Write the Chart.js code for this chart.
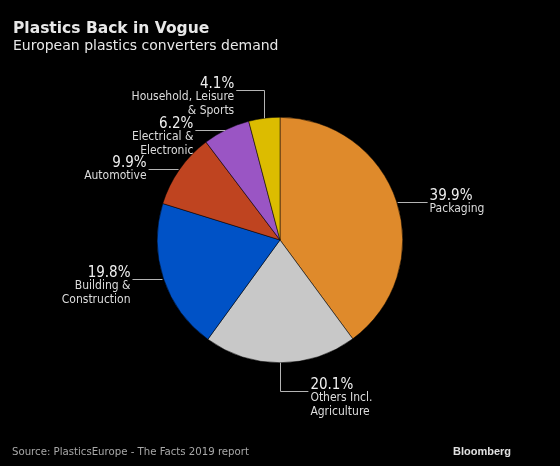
<!DOCTYPE html>
<html>
<head>
<meta charset="utf-8">
<script src="https://cdn.jsdelivr.net/npm/chart.js@4"></script>
<style>
  html, body { margin: 0; padding: 0; background: #000; }
  #wrap { width: 560px; height: 466px; position: relative; }
</style>
</head>
<body>
<div id="wrap"><canvas id="pie" width="560" height="466"></canvas></div>
<script>
// Data
const categories = [
    ['Packaging'],
    ['Others Incl.', 'Agriculture'],
    ['Building &', 'Construction'],
    ['Automotive'],
    ['Electrical &', 'Electronic'],
    ['Household, Leisure', '& Sports']
];
const shares = [39.9, 20.1, 19.8, 9.9, 6.2, 4.1];
const sliceColors = ['#df8a2b', '#c8c8c8', '#0052c6', '#bf4420', '#9a55c4', '#dcbc00'];

const FONT = "'DejaVu Sans', sans-serif";
const COND = "'DejaVu Sans Condensed', 'DejaVu Sans', sans-serif";

// Titles, footer and the leader-line labels
const annotate = {
    id: 'annotate',
    afterDraw(chart) {
        const ctx = chart.ctx;
        ctx.save();

        ctx.fillStyle = '#e8e8e8';
        ctx.textAlign = 'left';
        ctx.textBaseline = 'alphabetic';
        ctx.font = 'bold 15.5px ' + FONT;
        ctx.fillText('Plastics Back in Vogue', 13, 33);
        ctx.font = '14px ' + FONT;
        ctx.fillText('European plastics converters demand', 13, 50);

        ctx.fillStyle = '#a8a8a8';
        ctx.font = '11.3px ' + COND;
        ctx.fillText('Source: PlasticsEurope - The Facts 2019 report', 12, 455);
        ctx.fillStyle = '#e0e0e0';
        ctx.font = 'bold 11px "Liberation Sans", sans-serif';
        ctx.textAlign = 'right';
        ctx.fillText('Bloomberg', 511, 455);

        const meta = chart.getDatasetMeta(0);
        meta.data.forEach((arc, i) => {
            const p = arc.getProps(['x', 'y', 'startAngle', 'endAngle', 'outerRadius'], true);
            const a = (p.startAngle + p.endAngle) / 2;
            const c = Math.cos(a), s = Math.sin(a);
            const ex = p.x + p.outerRadius * c;
            const ey = p.y + p.outerRadius * s;

            ctx.strokeStyle = '#b4b4b4';
            ctx.lineWidth = 1;
            ctx.beginPath();
            let lx, ly, dir;
            if (Math.abs(c) < 0.3) {
                // near top/bottom: go out vertically, then sideways
                dir = c >= 0 ? 1 : -1;
                const vy = ey + (s >= 0 ? 28 : -28);
                ctx.moveTo(Math.round(ex) + 0.5, ey);
                ctx.lineTo(Math.round(ex) + 0.5, Math.round(vy) + 0.5);
                lx = ex + dir * 28;
                ly = Math.round(vy) + 0.5;
                ctx.lineTo(lx, ly);
            } else {
                dir = c >= 0 ? 1 : -1;
                ly = Math.round(ey) + 0.5;
                ctx.moveTo(ex + dir * 1, ly);
                lx = ex + dir * 31;
                ctx.lineTo(lx, ly);
            }
            ctx.stroke();

            const tx = lx + dir * 2;
            ctx.textAlign = dir > 0 ? 'left' : 'right';
            ctx.fillStyle = '#f0f0f0';
            ctx.font = '15px ' + COND;
            ctx.fillText(shares[i].toFixed(1) + '%', tx, ly - 3);
            ctx.fillStyle = '#dcdcdc';
            ctx.font = '12px ' + COND;
            categories[i].forEach((line, k) => {
                ctx.fillText(line, tx, ly + 9.5 + k * 14);
            });
        });
        ctx.restore();
    }
};

new Chart(document.getElementById('pie'), {
    type: 'pie',
    data: {
        labels: categories.map(c => c.join(' ')),
        datasets: [{
            data: shares,
            backgroundColor: sliceColors,
            borderColor: '#000',
            borderWidth: 0.5
        }]
    },
    options: {
        responsive: false,
        animation: false,
        layout: { padding: { top: 117, bottom: 103, left: 0, right: 0 } },
        plugins: {
            legend: { display: false },
            tooltip: { enabled: false },
            title: { display: false }
        }
    },
    plugins: [annotate]
});
</script>
</body>
</html>
